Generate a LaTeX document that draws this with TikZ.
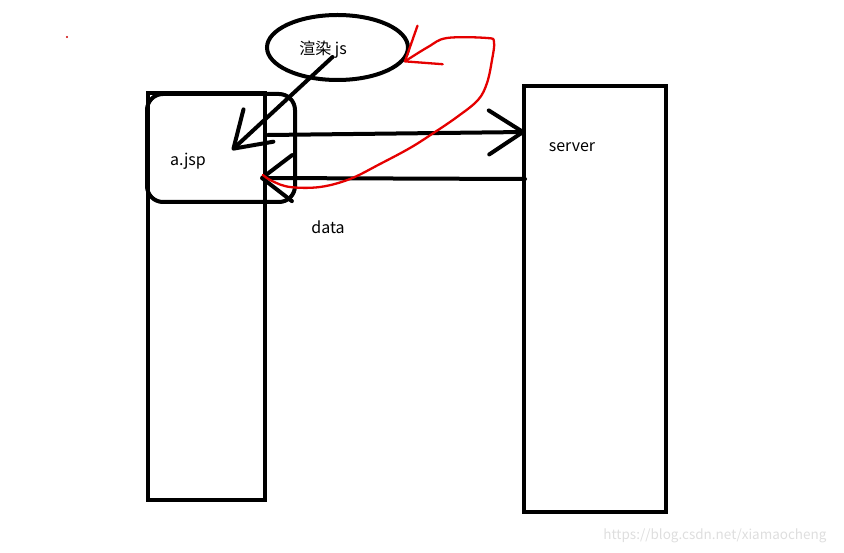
\documentclass[tikz,border=0pt]{standalone}
\usepackage{fontspec}
\setmainfont{Noto Sans CJK SC}
\usetikzlibrary{arrows.meta, shapes.geometric, calc}

\begin{document}
\begin{tikzpicture}[x=1pt, y=-1pt, >={Straight Barb[length=34pt, width=44pt, round]},
    box/.style={draw, line width=4pt, inner sep=0pt},
    pen/.style={line width=4pt, line cap=round},
    redpen/.style={red!90!black, line width=2.3pt, line cap=round, line join=round},
    lbl/.style={font=\fontsize{16}{19}\selectfont}]
    \useasboundingbox (0,0) rectangle (844,553);
    % boxes
    \node[box, minimum width=117pt, minimum height=407pt] (page) at (206.5,296.5) {};
    \node[box, rounded corners=16pt, minimum width=148pt, minimum height=108pt] (ajsp) at (221,148) {};
    \node[box, minimum width=142pt, minimum height=426pt] (server) at (595,299) {};
    \node[box, ellipse, minimum width=141pt, minimum height=65pt] (render) at (337.5,47.5) {};
    % labels
    \node[lbl] (renderlbl) at (323,50) {渲染 js};
    \node[lbl] (ajsplbl) at (188,161) {a.jsp};
    \node[lbl] (serverlbl) at (572,147) {server};
    \node[lbl] (datalbl) at (328,227) {data};
    % arrows
    \coordinate (rendertip) at ($(ajsp.center)+(11,2)$);
    \coordinate (datatip) at ($(page.north east)+(-7,87)$);
    \draw[pen, ->] ($(render.center)+(-5,9.5)$) -- (rendertip);
    \draw[pen, ->] ($(page.north east)+(1,44)$) -- ($(server.north west)+(3,48)$);
    \draw[pen, {Straight Barb[length=30pt, width=46pt, round]}-] (datatip) -- ($(server.north west)+(3,95)$);
    % red loop back to the ellipse
    \draw[redpen, -{Straight Barb[length=30pt, width=46pt, round]}] plot[smooth, tension=0.6] coordinates {
        (263,175) (272,181) (290,187) (320,187) (350,179) (380,164) (410,148) (432,134)
        (457,117) (478,100) (487,83) (492,60) (494,42) (487,38) (447,38) (428,47) (404,62)};
    \fill[red!80!black] (67,37) circle (1.2pt);
    \node[font=\fontsize{13.5}{16}\selectfont, text=black!13] (mark) at (715,536) {https://blog.csdn.net/xiamaocheng};
\end{tikzpicture}
\end{document}
